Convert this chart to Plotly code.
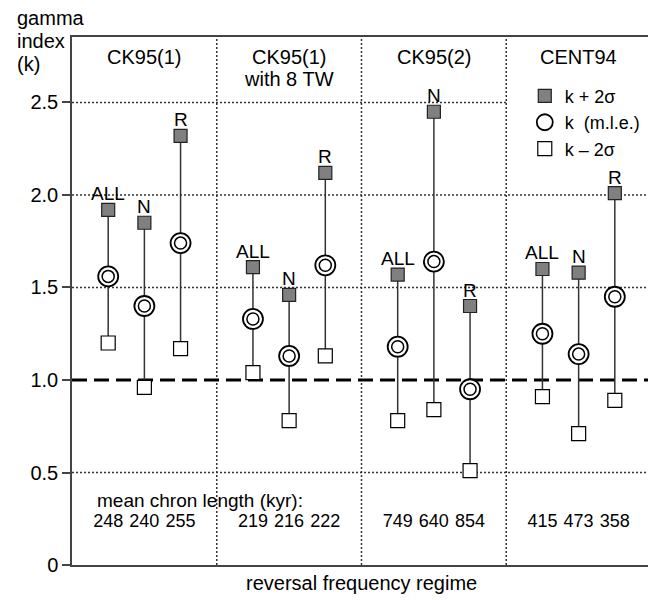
import plotly.graph_objects as go

# ---- data ----
groups = ["CK95(1)", "CK95(1)<br>with 8 TW", "CK95(2)", "CENT94"]
subsets = ["ALL", "N", "R"]
k_upper = [1.92, 1.85, 2.32, 1.61, 1.46, 2.12, 1.57, 2.45, 1.40, 1.60, 1.58, 2.01]
k_mle = [1.56, 1.40, 1.74, 1.33, 1.13, 1.62, 1.18, 1.64, 0.95, 1.25, 1.14, 1.45]
k_lower = [1.20, 0.96, 1.17, 1.04, 0.78, 1.13, 0.78, 0.84, 0.51, 0.91, 0.71, 0.89]
chron_lengths = [248, 240, 255, 219, 216, 222, 749, 640, 854, 415, 473, 358]
y_ticks = [0, 0.5, 1.0, 1.5, 2.0, 2.5]
y_tick_labels = ["0", "0.5", "1.0", "1.5", "2.0", "2.5"]

FONT = "Liberation Sans, Arial, sans-serif"
offsets = [0.25, 0.5, 0.75]
xs = [g + o for g in range(len(groups)) for o in offsets]
labels = [s for _ in groups for s in subsets]

fig = go.Figure()

# stems
sx, sy = [], []
for x, lo, hi in zip(xs, k_lower, k_upper):
    sx += [x, x, None]
    sy += [lo, hi, None]
fig.add_trace(go.Scatter(x=sx, y=sy, mode="lines", line=dict(color="#333", width=1.5),
                         showlegend=False, hoverinfo="skip"))

fig.add_trace(go.Scatter(x=xs, y=k_upper, mode="markers", name="k + 2σ",
                         marker=dict(symbol="square", size=13, color="#808080",
                                     line=dict(color="#222", width=1.2))))
fig.add_trace(go.Scatter(x=xs, y=k_mle, mode="markers", name="k  (m.l.e.)",
                         marker=dict(symbol="circle", size=20, color="white",
                                     line=dict(color="black", width=1.8))))
fig.add_trace(go.Scatter(x=xs, y=k_mle, mode="markers", showlegend=False,
                         marker=dict(symbol="circle-open", size=12, color="black",
                                     line=dict(color="black", width=1.5))))
fig.add_trace(go.Scatter(x=xs, y=k_lower, mode="markers", name="k – 2σ",
                         marker=dict(symbol="square", size=14, color="white",
                                     line=dict(color="black", width=1.2))))

# chron lengths
fig.add_trace(go.Scatter(x=xs, y=[0.232] * len(xs), mode="text",
                         text=[str(c) for c in chron_lengths], showlegend=False,
                         textfont=dict(family=FONT, size=18, color="black"),
                         hoverinfo="skip"))

shapes = []
for y in y_ticks[1:]:
    if y == 1.0:
        continue
    x1 = 3 if y == 2.5 else 4
    shapes.append(dict(type="line", xref="x", yref="y", x0=0, x1=x1, y0=y, y1=y,
                       line=dict(color="#333", width=1.5, dash="2px,2px"), layer="below"))
for g in range(1, len(groups)):
    shapes.append(dict(type="line", xref="x", yref="paper", x0=g, x1=g, y0=0, y1=1,
                       line=dict(color="#333", width=1.5, dash="2px,2px"), layer="below"))
shapes.append(dict(type="line", xref="x", yref="y", x0=0, x1=4, y0=1.0, y1=1.0,
                   line=dict(color="black", width=3, dash="15px,7px"), layer="below"))

annotations = []
# subset labels above the upper markers
for x, y, t in zip(xs, k_upper, labels):
    annotations.append(dict(x=x, y=y, xref="x", yref="y", text=t, showarrow=False,
                            yanchor="middle", yshift=16,
                            font=dict(family=FONT, size=19, color="black")))
# group titles
for i, g in enumerate(groups):
    for j, line in enumerate(g.split("<br>")):
        annotations.append(dict(x=i + 0.5, y=1, xref="x", yref="paper", text=line,
                                showarrow=False, yanchor="middle", yshift=-20 - 22 * j,
                                font=dict(family=FONT, size=20, color="black")))
annotations.append(dict(x=0.158, y=0.351, xref="x", yref="y", text="mean chron length (kyr):",
                        showarrow=False, xanchor="left",
                        font=dict(family=FONT, size=19, color="black")))
for j, line in enumerate(["gamma", "index", "(k)"]):
    annotations.append(dict(x=-0.098, y=1, xref="paper", yref="paper", text=line,
                            showarrow=False, xanchor="left", yanchor="middle",
                            yshift=19 - 23 * j,
                            font=dict(family=FONT, size=20, color="black")))
annotations.append(dict(x=0.5, y=0, xref="paper", yref="paper",
                        text="reversal frequency regime", showarrow=False,
                        yanchor="middle", yshift=-18,
                        font=dict(family=FONT, size=20, color="black")))

# the page body has an 8px margin; figure margins compensate for it
fig.update_layout(
    width=656, height=600,
    margin=dict(l=64, r=11, t=29, b=43),
    paper_bgcolor="white", plot_bgcolor="white",
    font=dict(family=FONT, size=18, color="black"),
    shapes=shapes, annotations=annotations,
    legend=dict(x=0.782, y=0.923, xanchor="left", yanchor="top",
                bgcolor="rgba(0,0,0,0)", font=dict(family=FONT, size=18),
                itemwidth=30, tracegroupgap=0),
    xaxis=dict(range=[0, 4], showgrid=False, zeroline=False, showticklabels=False,
               ticks="", showline=True, linecolor="#444", linewidth=1.5, mirror=True,
               fixedrange=True),
    yaxis=dict(range=[0, 2.854], tickvals=y_ticks, ticktext=y_tick_labels,
               showgrid=False, zeroline=False, ticks="outside", ticklen=8,
               tickcolor="#444", tickwidth=1.5,
               showline=True, linecolor="#444", linewidth=1.5, mirror=True,
               tickfont=dict(family=FONT, size=20), fixedrange=True),
)

fig.write_html("out.html")
